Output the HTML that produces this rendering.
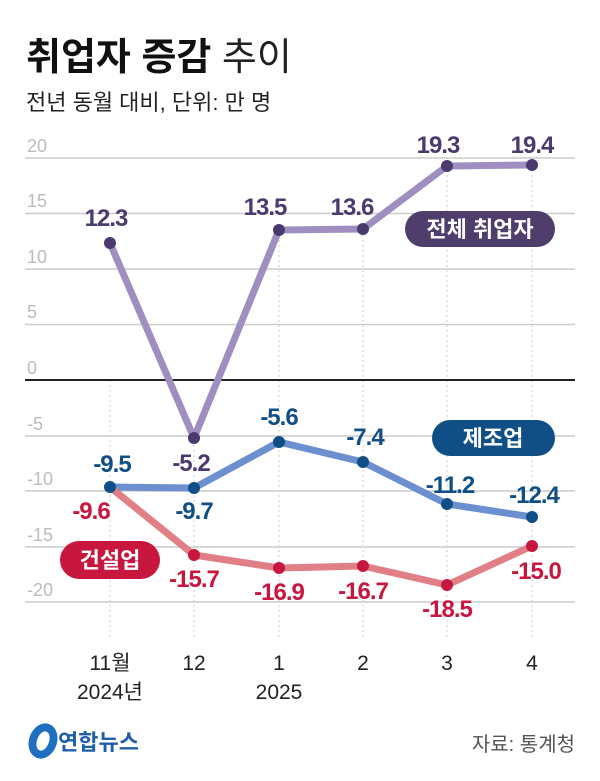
<!DOCTYPE html>
<html><head><meta charset="utf-8"><style>
body{margin:0;background:#fff;width:600px;height:776px;overflow:hidden;font-family:"Liberation Sans","Noto Sans CJK KR",sans-serif}
</style></head><body>
<svg width="600" height="776" xmlns="http://www.w3.org/2000/svg" font-family="Liberation Sans, Noto Sans CJK KR, sans-serif">
<text x="26" y="70" font-size="38" font-weight="bold" fill="#111">취업자 증감 <tspan font-weight="normal" fill="#222">추이</tspan></text>
<text x="26" y="110" font-size="22" fill="#222">전년 동월 대비, 단위: 만 명</text>
<g stroke="#ccc" stroke-width="1.5">
<line x1="25" x2="575" y1="158" y2="158"/><line x1="25" x2="575" y1="213.5" y2="213.5"/><line x1="25" x2="575" y1="269" y2="269"/><line x1="25" x2="575" y1="324.5" y2="324.5"/>
<line x1="25" x2="575" y1="436" y2="436"/><line x1="25" x2="575" y1="491" y2="491"/><line x1="25" x2="575" y1="547" y2="547"/><line x1="25" x2="575" y1="602" y2="602"/>
</g>
<g stroke="#ccc" stroke-width="1" stroke-dasharray="2,3">
<line x1="110" x2="110" y1="380" y2="640"/><line x1="194" x2="194" y1="440" y2="640"/><line x1="279" x2="279" y1="230" y2="640"/><line x1="363" x2="363" y1="230" y2="640"/><line x1="447" x2="447" y1="165" y2="640"/><line x1="532" x2="532" y1="165" y2="640"/>
</g>
<line x1="25" x2="575" y1="380" y2="380" stroke="#222" stroke-width="2"/>
<g font-size="18" fill="#bbb">
<text x="27" y="152">20</text><text x="27" y="207">15</text><text x="27" y="263">10</text><text x="27" y="318">5</text><text x="27" y="374">0</text>
<text x="27" y="430">-5</text><text x="27" y="485">-10</text><text x="27" y="541">-15</text><text x="27" y="596">-20</text>
</g>
<polyline points="110,243 194,438 279,230 363,229 447,166 532,165" fill="none" stroke="#9f8fc0" stroke-width="7" stroke-linejoin="round"/>
<polyline points="110,487 194,488 279,442 363,462 447,504 532,517" fill="none" stroke="#6b8fcf" stroke-width="7" stroke-linejoin="round"/>
<polyline points="110,487 194,555 279,568 363,566 447,585 532,546" fill="none" stroke="#e07f85" stroke-width="7" stroke-linejoin="round"/>
<g fill="#4b3a6e"><circle cx="110" cy="243" r="6"/><circle cx="194" cy="438" r="6"/><circle cx="279" cy="230" r="6"/><circle cx="363" cy="229" r="6"/><circle cx="447" cy="166" r="6"/><circle cx="532" cy="165" r="6"/></g>
<g fill="#0f4f86"><circle cx="110" cy="487" r="6"/><circle cx="194" cy="488" r="6"/><circle cx="279" cy="442" r="6"/><circle cx="363" cy="462" r="6"/><circle cx="447" cy="504" r="6"/><circle cx="532" cy="517" r="6"/></g>
<g fill="#c8173e"><circle cx="194" cy="555" r="6"/><circle cx="279" cy="568" r="6"/><circle cx="363" cy="566" r="6"/><circle cx="447" cy="585" r="6"/><circle cx="532" cy="546" r="6"/></g>
<g font-size="24" font-weight="bold" text-anchor="middle" letter-spacing="-1">
<g fill="#4b3a6e"><text x="106" y="226">12.3</text><text x="191" y="471">-5.2</text><text x="265" y="215">13.5</text><text x="352" y="215">13.6</text><text x="438" y="153">19.3</text><text x="532" y="153">19.4</text></g>
<g fill="#0f4f86"><text x="112" y="472">-9.5</text><text x="194" y="519">-9.7</text><text x="279" y="425">-5.6</text><text x="365" y="445">-7.4</text><text x="450" y="493">-11.2</text><text x="534" y="503">-12.4</text></g>
<g fill="#c8173e"><text x="91" y="519">-9.6</text><text x="194" y="587">-15.7</text><text x="279" y="600">-16.9</text><text x="363" y="599">-16.7</text><text x="447" y="617">-18.5</text><text x="536" y="579">-15.0</text></g>
</g>
<rect x="405" y="211" width="150" height="36" rx="18" fill="#4f3d6b"/>
<text x="480" y="237" font-size="22" font-weight="bold" fill="#fff" text-anchor="middle">전체 취업자</text>
<rect x="432" y="420" width="123" height="36" rx="18" fill="#0f4f86"/>
<text x="493" y="446" font-size="22" font-weight="bold" fill="#fff" text-anchor="middle">제조업</text>
<rect x="60" y="541" width="100" height="38" rx="19" fill="#c8173e"/>
<text x="110" y="568" font-size="22" font-weight="bold" fill="#fff" text-anchor="middle">건설업</text>
<g font-size="21" fill="#222" text-anchor="middle">
<text x="110" y="670">11월</text><text x="194" y="670">12</text><text x="279" y="670">1</text><text x="363" y="670">2</text><text x="447" y="670">3</text><text x="532" y="670">4</text>
<text x="110" y="699">2024년</text><text x="279" y="699">2025</text>
</g>
<ellipse cx="43" cy="741" rx="14" ry="18" fill="#1f6fc0" transform="rotate(20 43 741)"/>
<ellipse cx="43" cy="741" rx="6" ry="10" fill="#fff" transform="rotate(20 43 741)"/>
<text x="58" y="750" font-size="22" font-weight="bold" fill="#1f5fa8">연합뉴스</text>
<text x="575" y="751" font-size="20" fill="#555" text-anchor="end">자료: 통계청</text>
</svg>
</body></html>
